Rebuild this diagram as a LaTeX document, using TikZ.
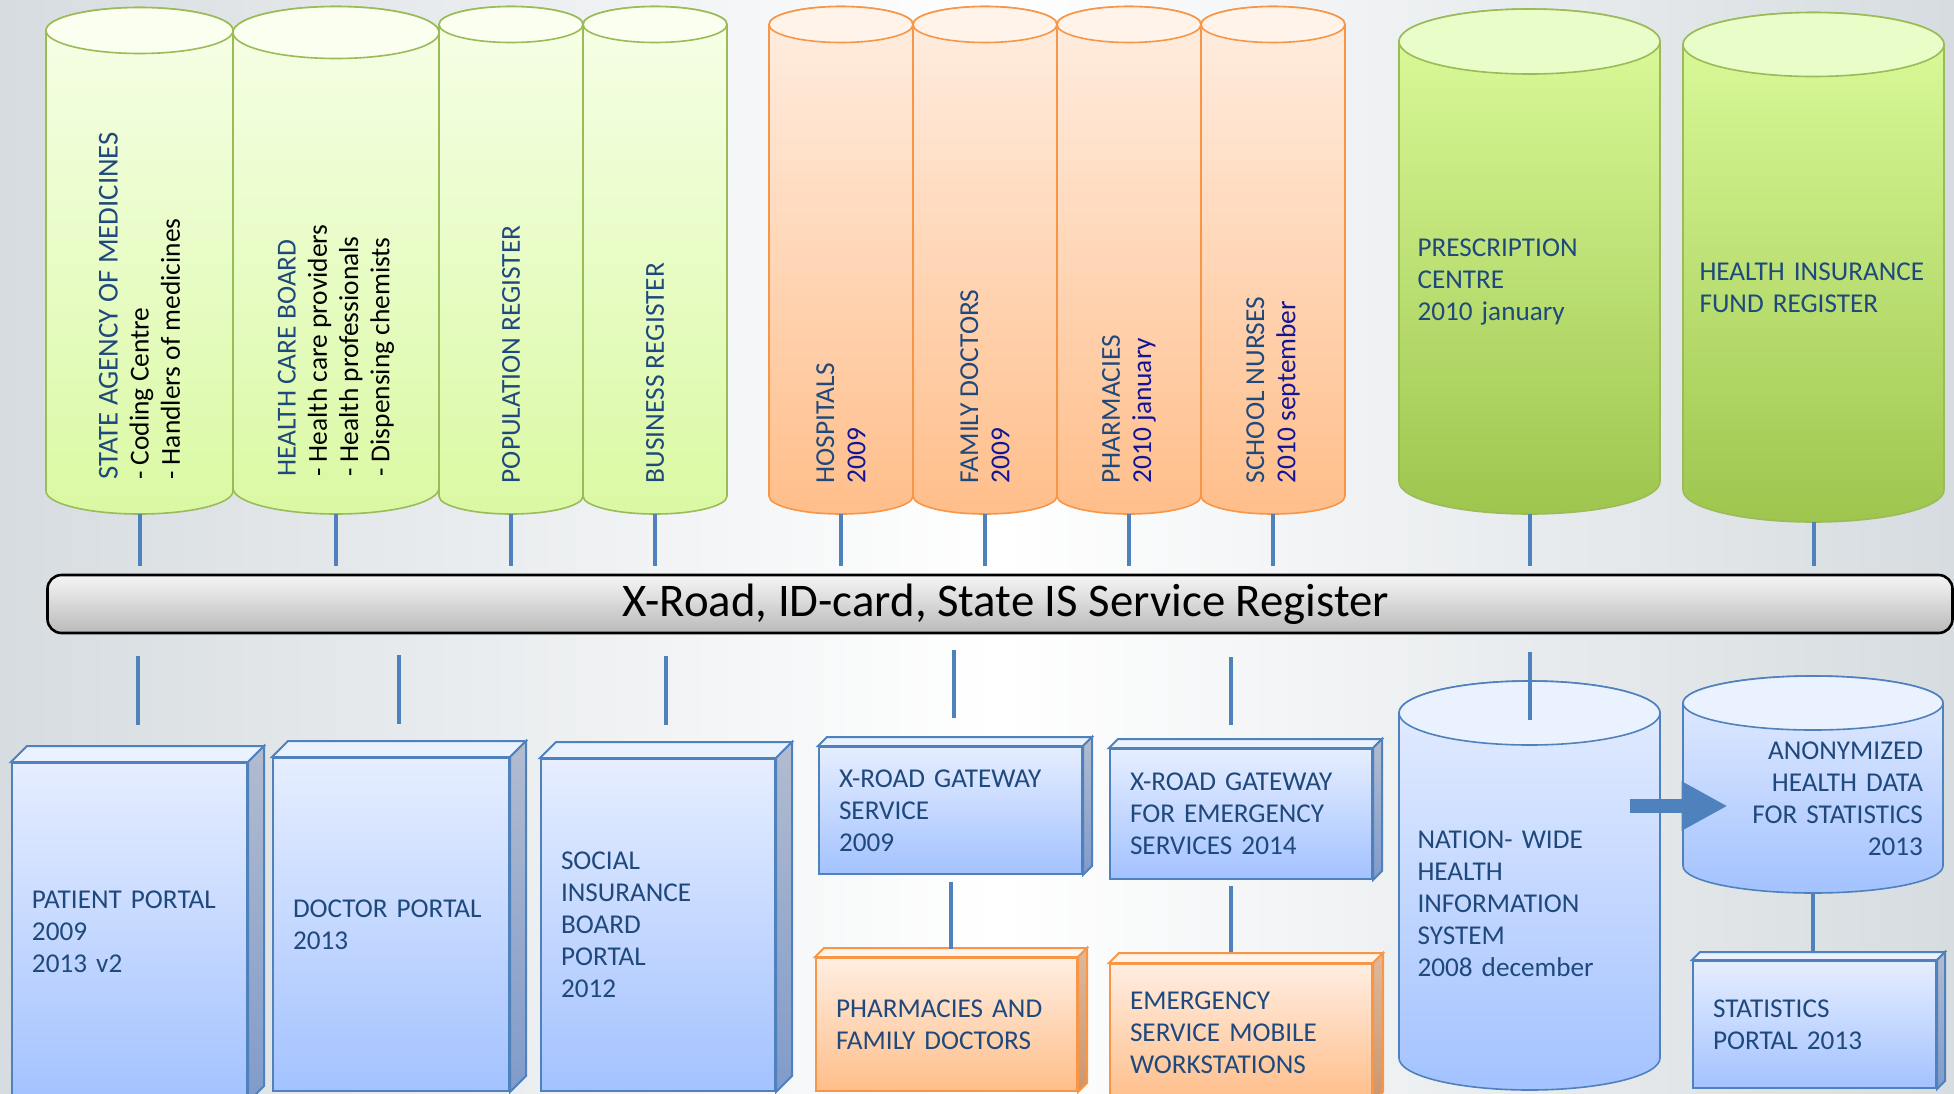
\documentclass[tikz,border=0pt]{standalone}
\usepackage{fontspec}
\setmainfont{Carlito}
\usetikzlibrary{arrows.meta,calc,positioning}
\hyphenpenalty=10000
\exhyphenpenalty=10000

\definecolor{backdrop}{RGB}{214,220,224}
\definecolor{linkblue}{RGB}{79,129,189}
\definecolor{inkblue}{RGB}{31,73,125}
\definecolor{yearblue}{RGB}{20,20,150}
\definecolor{leafline}{RGB}{155,187,89}
\definecolor{leaftop}{RGB}{246,255,232}
\definecolor{leafbot}{RGB}{218,249,163}
\definecolor{leafcap}{RGB}{250,255,240}
\definecolor{limetop}{RGB}{220,252,156}
\definecolor{limebot}{RGB}{158,198,78}
\definecolor{limecap}{RGB}{233,253,201}
\definecolor{peachline}{RGB}{247,150,70}
\definecolor{peachtop}{RGB}{255,238,226}
\definecolor{peachbot}{RGB}{255,190,138}
\definecolor{peachcap}{RGB}{255,243,234}
\definecolor{peachside}{RGB}{222,184,156}
\definecolor{peachsidebot}{RGB}{204,150,108}
\definecolor{skytop}{RGB}{230,238,255}
\definecolor{skybot}{RGB}{163,194,255}
\definecolor{skycap}{RGB}{234,241,255}
\definecolor{skyside}{RGB}{178,188,208}
\definecolor{skysidebot}{RGB}{128,155,202}
\definecolor{bartop}{RGB}{245,245,245}
\definecolor{barbot}{RGB}{186,186,186}

\newcommand{\drumfont}{\fontsize{13.7}{15.6}\selectfont}
\newcommand{\headfont}{\fontsize{14.4}{16}\selectfont}
\newcommand{\boxfont}{\fontsize{13.6}{16}\selectfont}

\tikzset{
  >=Stealth,
  % cylinder bodies and their top ellipses
  leafdrum/.style={draw=leafline, line width=0.8pt, top color=leaftop, bottom color=leafbot},
  leafcap/.style={draw=leafline, line width=0.8pt, fill=leafcap},
  peachdrum/.style={draw=peachline, line width=0.8pt, top color=peachtop, bottom color=peachbot},
  peachcap/.style={draw=peachline, line width=0.8pt, fill=peachcap},
  limedrum/.style={draw=leafline, line width=0.8pt, top color=limetop, bottom color=limebot},
  limecap/.style={draw=leafline, line width=0.8pt, fill=limecap},
  skydrum/.style={draw=linkblue, line width=0.8pt, top color=skytop, bottom color=skybot},
  skycap/.style={draw=linkblue, line width=0.8pt, fill=skycap},
  % the text that sits in a cylinder
  drumtext/.style={rectangle, inner sep=0pt, text=inkblue, font=\drumfont},
  drumnote/.style={rectangle, inner sep=0pt, text=inkblue, align=left, text width=113pt},
  slab/.style={
    rectangle, draw=linkblue, line width=1pt,
    top color=skytop, bottom color=skybot,
    text=inkblue, align=left, inner xsep=10pt, anchor=north west},
  slabpeach/.style={slab, draw=peachline,
    top color=peachtop, bottom color=peachbot},
  skyfaces/.style={draw=linkblue, line width=1pt},
  peachfaces/.style={draw=peachline, line width=1pt},
  bar/.style={
    rectangle, rounded corners=7pt, draw=black, line width=1.3pt,
    top color=bartop, bottom color=barbot,
    minimum width=952.5pt, minimum height=29pt, inner sep=0pt,
    font=\fontsize{23.4}{28}\selectfont},
  link/.style={draw=linkblue, line width=2pt},
  fatarrow/.style={draw=linkblue, line width=7pt,
    -{Triangle[length=23pt,width=23pt]}},
}

% cylinder: body style, cap style, centre x, width, top, bottom, cap depth
\newcommand{\drum}[7]{%
  \path[#1] ({#3-#4/2},{#5+#7}) -- ({#3-#4/2},{#6-#7})
    arc[start angle=180, end angle=360, x radius={#4/4*1pt}, y radius={#7/2*1pt}]
    -- ({#3+#4/2},{#5+#7})
    arc[start angle=0, end angle=180, x radius={#4/4*1pt}, y radius={#7/2*1pt}] -- cycle;
  \path[#2] (#3,{#5+#7}) ellipse [x radius={#4/4*1pt}, y radius={#7/2*1pt}];
}
% rotated text inside the tall cylinders
\newcommand{\sidetext}[2][219pt]{\rotatebox{90}{\parbox{#1}{\raggedright #2}}}
% top and right faces of a box node
\newcommand{\slabfaces}[5]{%
  \filldraw[#3, fill=#4] (#1.north west) -- ++(#2,-#2)
    -- ([shift={(#2,-#2)}]#1.north east) -- (#1.north east) -- cycle;
  \shadedraw[#3, top color=#5, bottom color=#5bot] (#1.north east) -- ++(#2,-#2)
    -- ([shift={(#2,-#2)}]#1.south east) -- (#1.south east) -- cycle;
}

\begin{document}
\begin{tikzpicture}[x=0.5pt, y=-0.5pt,
  every node/.style={font=\boxfont}]
  \useasboundingbox (0,0) rectangle (1954,1093);
  % backdrop
  \shade[left color=backdrop, right color=white] (0,0) rectangle (1000,1093);
  \shade[left color=white, right color=backdrop] (1000,0) rectangle (1954,1093);

  % registers on top
  \drum{leafdrum}{leafcap}{139.5}{187}{7.5}{514}{23}
  \drum{leafdrum}{leafcap}{336}{206}{6.5}{514}{26}
  \drum{leafdrum}{leafcap}{511}{144}{6.5}{514}{18}
  \drum{leafdrum}{leafcap}{655}{144}{6.5}{514}{18}
  \drum{peachdrum}{peachcap}{841}{144}{6.5}{514}{18}
  \drum{peachdrum}{peachcap}{985}{144}{6.5}{514}{18}
  \drum{peachdrum}{peachcap}{1129}{144}{6.5}{514}{18}
  \drum{peachdrum}{peachcap}{1273}{144}{6.5}{514}{18}
  \drum{limedrum}{limecap}{1529.5}{261}{9}{514}{32.5}
  \drum{limedrum}{limecap}{1813.5}{261}{12.5}{522}{32}

  \node[drumtext, minimum width=93.5pt, minimum height=253.25pt] (sam) at (139.5,260.75)
    {\sidetext{{\headfont STATE AGENCY OF MEDICINES}\\\color{black}- Coding Centre\\- Handlers of medicines}};
  \node[drumtext, minimum width=103pt, minimum height=253.75pt] (hcb) at (336,260.25)
    {\sidetext[216.5pt]{HEALTH CARE BOARD\\\color{black}- Health care providers\\- Health professionals\\- Dispensing chemists}};
  \node[drumtext, minimum width=72pt, minimum height=253.75pt] (pop) at (511,260.25)
    {\sidetext[223pt]{POPULATION REGISTER}};
  \node[drumtext, minimum width=72pt, minimum height=253.75pt] (bus) at (655,260.25)
    {\sidetext[223pt]{BUSINESS REGISTER}};
  \node[drumtext, minimum width=72pt, minimum height=253.75pt] (hos) at (841,260.25)
    {\sidetext[223pt]{HOSPITALS\\\color{yearblue}2009}};
  \node[drumtext, minimum width=72pt, minimum height=253.75pt] (fam) at (985,260.25)
    {\sidetext[223pt]{FAMILY DOCTORS\\\color{yearblue}2009}};
  \node[drumtext, minimum width=72pt, minimum height=253.75pt] (pha) at (1129,260.25)
    {\sidetext[223pt]{PHARMACIES\\\color{yearblue}2010 january}};
  \node[drumtext, minimum width=72pt, minimum height=253.75pt] (sch) at (1273,260.25)
    {\sidetext[223pt]{SCHOOL NURSES\\\color{yearblue}2010 september}};
  \node[drumnote, text width=112pt, minimum width=130.5pt, minimum height=232pt] (prc) at (1529.5,282)
    {PRESCRIPTION\\CENTRE\\2010 january};
  \node[drumnote, text width=114pt, minimum width=130.5pt, minimum height=234pt] (hif) at (1813.5,288)
    {HEALTH INSURANCE\\FUND REGISTER};

  % the shared layer
  \node[bar] (xroad) at (1000,604) {\hspace*{6pt}X-Road, ID-card, State IS Service Register};

  \foreach \c in {sam,hcb,pop,bus,hos,fam,pha,sch,prc,hif}
    \draw[link, shorten >=4pt] (\c.south) -- (\c.south |- xroad.north);

  % portals and gateways
  \node[slab, text width=97.5pt, minimum height=169pt] (pp) at (11,762)
    {PATIENT PORTAL\\2009\\2013 v2};
  \node[slab, text width=98pt, minimum height=166.5pt] (dp) at (272,757)
    {DOCTOR PORTAL\\2013};
  \node[slab, text width=97pt, minimum height=166pt] (sib) at (540,758)
    {SOCIAL\\INSURANCE\\BOARD\\PORTAL\\2012};
  \node[slab, text width=111.5pt, minimum height=63.5pt] (gws) at (818,746)
    {X-ROAD GATEWAY\\SERVICE\\2009};
  \node[slab, text width=111pt, minimum height=65pt] (gwe) at (1109,748)
    {X-ROAD GATEWAY\\FOR EMERGENCY\\SERVICES 2014};
  \node[slabpeach, text width=110.5pt, minimum height=66.5pt] (phf) at (815,957)
    {PHARMACIES AND\\FAMILY DOCTORS};
  \node[slabpeach, text width=111pt, minimum height=68.5pt] (ems) at (1109,963)
    {EMERGENCY\\SERVICE MOBILE\\WORKSTATIONS};
  \node[slab, text width=101.5pt, minimum height=63.5pt] (stp) at (1692,960)
    {STATISTICS\\PORTAL 2013};

  \slabfaces{pp}{16}{skyfaces}{skycap}{skyside}
  \slabfaces{dp}{16}{skyfaces}{skycap}{skyside}
  \slabfaces{sib}{16}{skyfaces}{skycap}{skyside}
  \slabfaces{gws}{9}{skyfaces}{skycap}{skyside}
  \slabfaces{gwe}{9}{skyfaces}{skycap}{skyside}
  \slabfaces{phf}{9}{peachfaces}{peachcap}{peachside}
  \slabfaces{ems}{10}{peachfaces}{peachcap}{peachside}
  \slabfaces{stp}{8}{skyfaces}{skycap}{skyside}

  % health information system
  \drum{skydrum}{skycap}{1529.5}{261}{681}{1090}{32}
  \drum{skydrum}{skycap}{1813}{260}{676}{893}{27}
  \node[drumnote, text width=112pt, minimum width=130.5pt, minimum height=186pt] (nhis) at (1529.5,904)
    {NATION- WIDE\\HEALTH\\INFORMATION\\SYSTEM\\2008 december};
  \node[drumnote, align=right, text width=110pt,
    minimum width=130pt, minimum height=94pt] (anon) at (1813,799)
    {ANONYMIZED\hspace*{3pt}\\HEALTH DATA\hspace*{3pt}\\FOR STATISTICS\\2013};

  \draw[link, shorten <=11pt, shorten >=18.5pt] ([xshift=4pt]pp.north |- xroad.south) -- ([xshift=4pt]pp.north);
  \draw[link, shorten <=10.5pt, shorten >=16.5pt] ([xshift=4pt]dp.north |- xroad.south) -- ([xshift=4pt]dp.north);
  \draw[link, shorten <=11pt, shorten >=16.5pt] ([xshift=4pt]sib.north |- xroad.south) -- ([xshift=4pt]sib.north);
  \draw[link, shorten <=8pt, shorten >=14pt] ([xshift=1.5pt]gws.north |- xroad.south) -- ([xshift=1.5pt]gws.north);
  \draw[link, shorten <=11.5pt, shorten >=11.5pt] ([xshift=-5pt]gwe.north |- xroad.south) -- ([xshift=-5pt]gwe.north);
  \draw[link, shorten <=9pt, shorten >=-1pt] (nhis.north |- xroad.south) -- (nhis.north);
  \draw[link, shorten <=3.5pt, shorten >=4pt] (gws.south) -- (gws.south |- phf.north);
  \draw[link, shorten <=3pt, shorten >=5.5pt] ([xshift=-5pt]gwe.south) -- ([xshift=-5pt]gwe.south |- ems.north);
  \draw[link, shorten >=4.5pt] (anon.south) -- (anon.south |- stp.north);

  \draw[fatarrow] ([xshift=-15pt]nhis.east |- 0,806) -- ([xshift=22.5pt]anon.west |- 0,806);
\end{tikzpicture}
\end{document}
